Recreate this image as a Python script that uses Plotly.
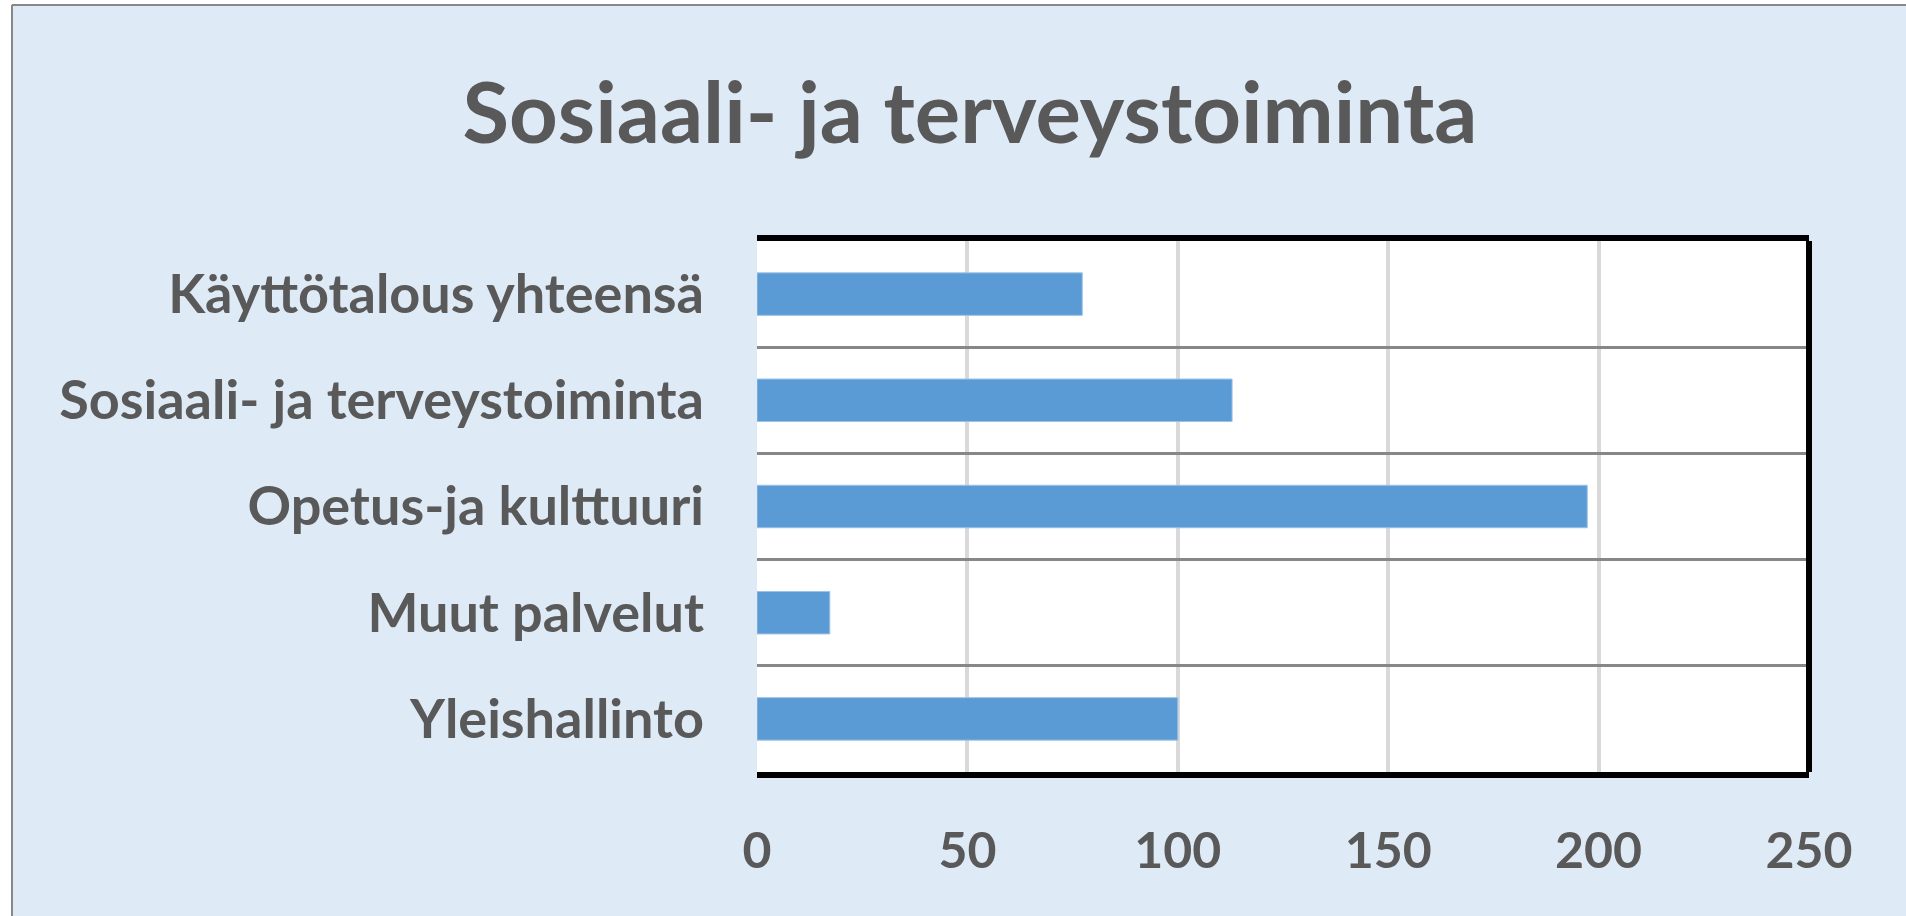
import plotly.graph_objects as go

categories = ["Käyttötalous yhteensä", "Sosiaali- ja terveystoiminta", "Opetus-ja kulttuuri",
              "Muut palvelut", "Yleishallinto"]
values = [77.3, 112.9, 197.3, 17.3, 100.0]
x_ticks = [0, 50, 100, 150, 200, 250]
title_text = "Sosiaali- ja terveystoiminta"

W, H = 1906, 916
L, R, T, B = 757, 97, 241, 144
pw, ph = W - L - R, H - T - B

TXT = "#595959"
FONT = "Lato"

def px(x):
    return (x - L) / pw

def py(y):
    return (H - B - y) / ph

fig = go.Figure(go.Bar(
    y=categories, x=values, orientation="h",
    marker=dict(color="#5b9bd5", line=dict(color="#9cc2e5", width=1)),
    width=0.4,
))

fig.update_layout(
    width=W, height=H,
    margin=dict(l=L, r=R, t=T, b=B),
    paper_bgcolor="#deeaf6",
    plot_bgcolor="white",
    showlegend=False,
    title=dict(text=title_text, x=970 / W, xanchor="center", y=1 - 113 / H, yanchor="middle",
               font=dict(family=FONT, size=85, color=TXT, weight="bold")),
    xaxis=dict(range=[0, 250], tickvals=x_ticks, showgrid=True, gridcolor="#d9d9d9", gridwidth=3.5,
               zeroline=False, showline=True, linecolor="black", linewidth=6, mirror=True,
               ticks="", ticklabelstandoff=30,
               tickfont=dict(family=FONT, size=50, color=TXT, weight="bold")),
    yaxis=dict(categoryorder="array", categoryarray=categories[::-1], tickson="boundaries",
               showgrid=True, gridcolor="#878787", gridwidth=3, showline=False, zeroline=False,
               ticks="", ticklabelstandoff=52,
               tickfont=dict(family=FONT, size=54, color=TXT, weight="bold")),
    shapes=[
        dict(type="rect", xref="paper", yref="paper", layer="below",
             x0=px(0), x1=px(11), y0=py(H), y1=py(0), fillcolor="white", line=dict(width=0)),
        dict(type="rect", xref="paper", yref="paper", layer="below",
             x0=px(0), x1=px(W), y0=py(4), y1=py(0), fillcolor="white", line=dict(width=0)),
        dict(type="line", xref="paper", yref="paper", layer="below",
             x0=px(12), x1=px(12), y0=py(H), y1=py(5), line=dict(color="#888888", width=2)),
        dict(type="line", xref="paper", yref="paper", layer="below",
             x0=px(12), x1=px(W), y0=py(5), y1=py(5), line=dict(color="#888888", width=2)),
        dict(type="line", xref="paper", yref="paper", x0=1, x1=1, y0=0, y1=1,
             line=dict(color="black", width=6)),
    ],
)

fig.write_html("out.html", config={"displayModeBar": False},
               post_script="document.body.style.margin='0';document.body.style.overflow='hidden';"
                           "document.documentElement.style.overflow='hidden';")
